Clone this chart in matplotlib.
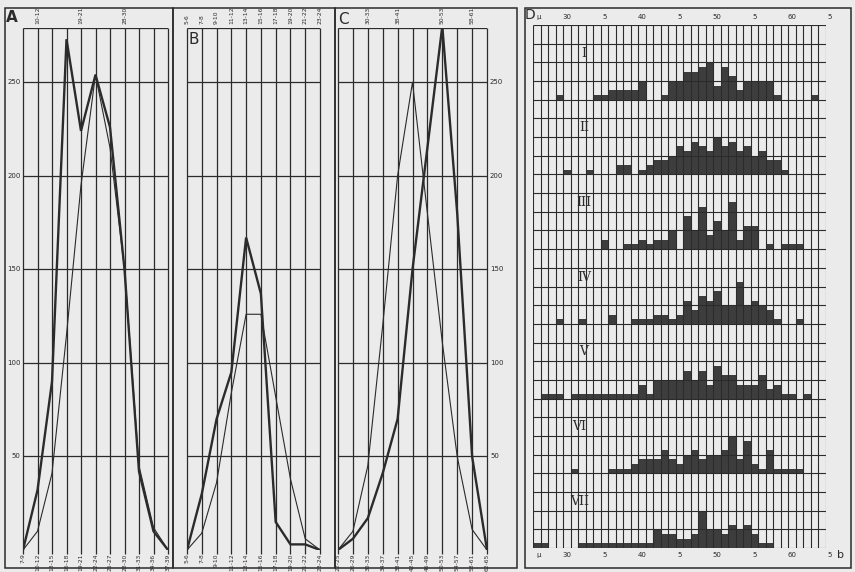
import numpy as np
import matplotlib.pyplot as plt
from matplotlib.patches import Rectangle

W, H = 855, 572
INK = '#2b2b2b'
PAPER = '#ebebeb'

# ---- panel A ----
A_labels = ['7-9', '10-12', '13-15', '16-18', '19-21', '22-24', '25-27', '28-30', '31-33', '34-36', '37-39']
A_thick = [0, 32, 90, 273, 224, 254, 226, 150, 42, 10, 0]
A_thin = [0, 10, 41, 115, 195, 254, 215, 150, 45, 12, 0]
A_top = {1: '10-12', 4: '19-21', 7: '28-30'}

# ---- panel B ----
B_labels = ['5-6', '7-8', '9-10', '11-12', '13-14', '15-16', '17-18', '19-20', '21-22', '23-24']
B_thick = [0, 30, 70, 95, 167, 137, 15, 3, 3, 0]
B_thin = [0, 9, 36, 84, 126, 126, 82, 38, 6, 0]

# ---- panel C ----
C_labels = ['22-25', '26-29', '30-33', '34-37', '38-41', '42-45', '46-49', '50-53', '54-57', '58-61', '62-65']
C_thick = [0, 6, 17, 41, 70, 150, 215, 280, 180, 50, 0]
C_thin = [0, 10, 45, 120, 200, 250, 180, 111, 50, 11, 0]
C_top = {2: '30-33', 4: '38-41', 7: '50-53', 9: '58-61'}

y_ticks = [50, 100, 150, 200, 250]

# ---- panel D : counts per micron class, sections I..VII (1 grid row = 4) ----
D_mu = list(range(26, 65))
D_sections = ['I', 'II', 'III', 'IV', 'V', 'VI', 'VII']
D_I = [0, 0, 0, 1, 0, 0, 0, 0, 1, 1, 2, 2, 2, 2, 4, 0, 0, 1, 4, 4, 6, 6, 7, 8, 3, 7, 5, 2, 4, 4, 4, 4, 1, 0, 0, 0, 0, 1, 0]
D_II = [0, 0, 0, 0, 1, 0, 0, 1, 0, 0, 0, 2, 2, 0, 1, 2, 3, 3, 4, 6, 5, 7, 6, 5, 8, 6, 7, 5, 6, 4, 5, 3, 3, 1, 0, 0, 0, 0, 0]
D_III = [0, 0, 0, 0, 0, 0, 0, 0, 0, 2, 0, 0, 1, 1, 2, 1, 2, 2, 4, 0, 7, 4, 9, 3, 6, 4, 10, 2, 5, 5, 0, 1, 0, 1, 1, 1, 0, 0, 0]
D_IV = [0, 0, 0, 1, 0, 0, 1, 0, 0, 0, 2, 0, 0, 1, 1, 1, 2, 2, 1, 2, 5, 3, 6, 5, 7, 4, 4, 9, 4, 5, 4, 3, 1, 0, 0, 1, 0, 0, 0]
D_V = [0, 1, 1, 1, 0, 1, 1, 1, 1, 1, 1, 1, 1, 1, 3, 1, 4, 4, 4, 4, 6, 4, 6, 3, 7, 5, 5, 3, 3, 3, 5, 2, 3, 1, 1, 0, 1, 0, 0]
D_VI = [0, 0, 0, 0, 0, 1, 0, 0, 0, 0, 1, 1, 1, 2, 3, 3, 3, 5, 3, 2, 4, 5, 3, 4, 4, 5, 8, 3, 7, 2, 1, 5, 1, 1, 1, 1, 0, 0, 0]
D_VII = [1, 1, 0, 0, 0, 0, 1, 1, 1, 1, 1, 1, 1, 1, 1, 1, 4, 3, 3, 2, 2, 3, 8, 4, 4, 3, 5, 4, 5, 3, 1, 1, 0, 0, 0, 0, 0, 0, 0]
D_data = [D_I, D_II, D_III, D_IV, D_V, D_VI, D_VII]
D_ticks = [(30, '30'), (35, '5'), (40, '40'), (45, '5'), (50, '50'), (55, '5'), (60, '60'), (65, '5')]

fig = plt.figure(figsize=(W / 100, H / 100), dpi=100)
fig.patch.set_facecolor(PAPER)


def px_axes(x0, x1, ytop, ybot):
    return fig.add_axes([x0 / W, 1 - ybot / H, (x1 - x0) / W, (ybot - ytop) / H])


# overlay for frames and free text, pixel coordinates
ov = fig.add_axes([0, 0, 1, 1])
ov.set_xlim(0, W)
ov.set_ylim(H, 0)
ov.axis('off')
ov.patch.set_alpha(0)
for x0, x1 in [(5, 173), (173, 335), (335, 517), (525, 851)]:
    ov.add_patch(Rectangle((x0, 8), x1 - x0, 560, fill=False, ec=INK, lw=1.1))


def curve_panel(x0, x1, labels, thick, thin, top=None):
    ax = px_axes(x0, x1, 28, 550)
    n = len(labels)
    ax.set_xlim(0, n - 1)
    ax.set_ylim(0, 279)
    ax.axis('off')
    ax.vlines(range(n), -2, 279, color=INK, lw=0.9, clip_on=False)
    ax.hlines(y_ticks, 0, n - 1, color=INK, lw=0.9)
    ax.hlines(279, 0, n - 1, color=INK, lw=0.9)
    ax.plot(range(n), thick, color=INK, lw=1.7, solid_joinstyle='miter')
    ax.plot(range(n), thin, color=INK, lw=0.8)
    for i, lab in enumerate(labels):
        ax.text(i, -2, lab, rotation=90, ha='center', va='top', fontsize=4.3, color=INK)
    if top:
        for i, lab in top.items():
            ax.text(i, 281, lab, rotation=90, ha='center', va='bottom', fontsize=4.3, color=INK)
    return ax


axA = curve_panel(23, 168, A_labels, A_thick, A_thin, A_top)
for v in y_ticks:
    axA.text(-0.15, v, str(v), ha='right', va='center', fontsize=5, color=INK)
axB = curve_panel(187, 320, B_labels, B_thick, B_thin, {i: l for i, l in enumerate(B_labels)})
axC = curve_panel(338, 487, C_labels, C_thick, C_thin, C_top)
for v in y_ticks:
    axC.text(10.2, v, str(v), ha='left', va='center', fontsize=5, color=INK)

ov.text(12, 17, 'A', fontsize=11, fontweight='bold', ha='center', va='center', color=INK)
ov.text(194, 40, 'B', fontsize=11, ha='center', va='center', color=INK)
ov.text(343, 19, 'C', fontsize=11, ha='center', va='center', color=INK)
ov.text(530, 15, 'D', fontsize=10, ha='center', va='center', color=INK)

# ---- panel D ----
axD = px_axes(533, 825.5, 25, 548)
axD.set_xlim(D_mu[0] - 0.5, D_mu[-1] + 0.5)
axD.set_ylim(0, 28 * 4)
axD.axis('off')
for k, vals in enumerate(D_data):
    base = (6 - k) * 16
    axD.bar(D_mu, vals, width=1.0, bottom=base, color='#3d3d3d', lw=0)
    axD.text(32.3 if k < 5 else 31.7, base + 10, D_sections[k], fontsize=9,
             family='DejaVu Serif', ha='center', va='center', color=INK)
edges = np.arange(D_mu[0] - 0.5, D_mu[-1] + 1.0, 1.0)
axD.vlines(edges, 0, 112, color=INK, lw=0.8)
axD.hlines(np.arange(0, 113, 4), edges[0], edges[-1], color=INK, lw=0.8)
for xv, lab in D_ticks:
    axD.text(xv, 113.8, lab, fontsize=5, ha='center', va='center', color=INK, clip_on=False)
    axD.text(xv, -1.6, lab, fontsize=5, ha='center', va='center', color=INK, clip_on=False)
axD.text(26.3, 113.8, 'μ', fontsize=5, ha='center', va='center', color=INK)
axD.text(26.3, -1.6, 'μ', fontsize=5, ha='center', va='center', color=INK)
axD.text(66.5, -1.6, 'b', fontsize=8, ha='center', va='center', color=INK)

fig.savefig('out.png', dpi=100, facecolor=PAPER)
